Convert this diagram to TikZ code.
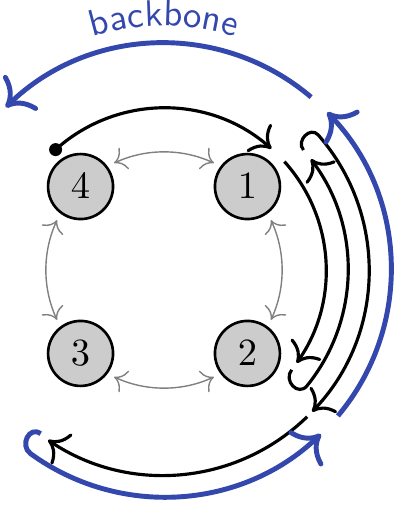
\documentclass[tikz,border=0pt]{standalone}
\usepackage{xcolor}
\usetikzlibrary{calc, decorations.text, positioning, arrows.meta}
\definecolor{boneblue}{RGB}{51,71,173}

\begin{document}
\begin{tikzpicture}[>={To[scale=1.4]},
    server/.style={circle, draw, line width=0.75pt, fill=black!20,
        minimum size=0.65cm, inner sep=0pt, font=\fontsize{11}{13}\selectfont},
    ringlink/.style={{To[scale=1.3]}-{To[scale=1.3]}, gray, line width=0.4pt},
    route/.style={->, line width=0.9pt},
    bone/.style={->, boneblue, line width=1.4pt}]
    \useasboundingbox (-1.64,-2.50) rectangle (2.51,2.70);

    % 1. Các nút
    \node[server] (n4) at (135:1.18) {$4$};
    \node[server] (n1) at (45:1.18) {$1$};
    \node[server] (n2) at (-45:1.18) {$2$};
    \node[server] (n3) at (-135:1.18) {$3$};

    % 2. Liên kết vòng
    \draw[ringlink] (115:1.18) arc[start angle=115, end angle=65, radius=1.18];
    \draw[ringlink] (25:1.18) arc[start angle=25, end angle=-25, radius=1.18];
    \draw[ringlink] (-65:1.18) arc[start angle=-65, end angle=-115, radius=1.18];
    \draw[ringlink] (-155:1.18) arc[start angle=-155, end angle=-205, radius=1.18];

    % 3. Đường đi (đen)
    \fill (132:1.62) circle (0.065);
    \draw[route] (132:1.62) arc[start angle=132, end angle=48.5, radius=1.62];
    \draw[route] (42:1.62) arc[start angle=42, end angle=-35, radius=1.62];
    \draw[route] (-38:1.62) .. controls +(-128:0.14) and +(-129:0.14) .. (-39:1.84)
        arc[start angle=-39, end angle=37, radius=1.84];
    \draw[route] (40.7:1.84) .. controls +(130.7:0.12) and +(131.2:0.12) .. (41.2:2.05)
        arc[start angle=41.2, end angle=-43.7, radius=2.05];
    \draw[route] (-45.7:2.05) arc[start angle=-45.7, end angle=-124, radius=2.06];

    % 4. Backbone (xanh)
    \draw[bone] (-127:2.05) .. controls +(143:0.14) and +(144:0.14) .. (-126:2.27)
        arc[start angle=-126, end angle=-46.3, radius=2.27];
    \draw[bone] (-40:2.27) arc[start angle=-40, end angle=44, radius=2.27];
    \draw[bone] (49.6:2.27) arc[start angle=49.6, end angle=134.2, radius=2.27];
    \path[decorate, decoration={text along path, text align=center,
        text color=boneblue, text={|\sffamily\fontsize{10.5}{12}\selectfont|backbone}}]
        (150:2.44) arc[start angle=150, end angle=30, radius=2.44];
\end{tikzpicture}
\end{document}
